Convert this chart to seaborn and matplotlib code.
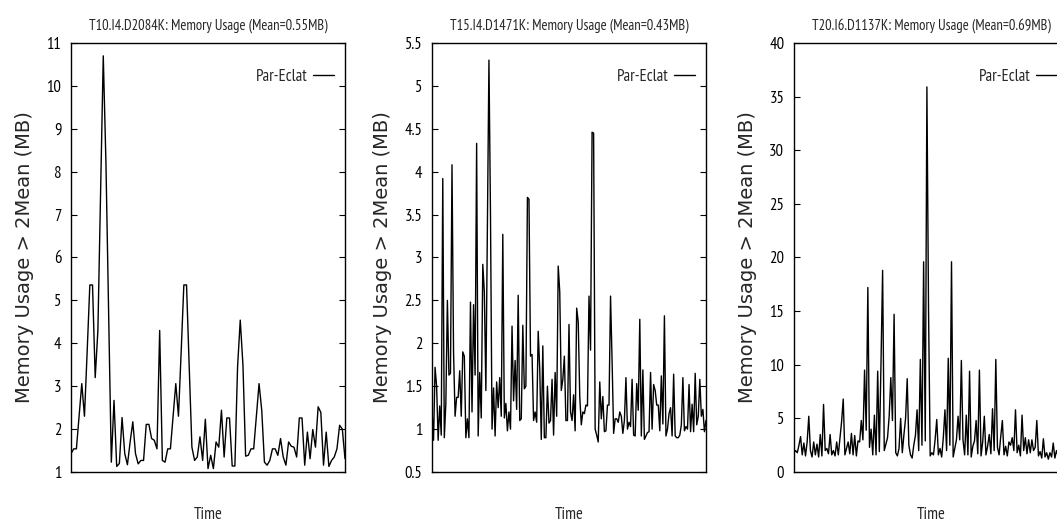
import pandas as pd
import matplotlib.pyplot as plt
import seaborn as sns
import numpy as np
from matplotlib.ticker import FormatStrFormatter

# memory usage traces (MB)
t10_usage = [1.43, 1.54, 1.54, 2.3, 3.06, 2.3, 3.8, 5.36, 5.36, 3.2, 4.3, 7.5, 10.7, 8.2, 4.7,
             1.23, 2.67, 1.13, 1.2, 2.27, 1.43, 1.17, 1.7, 2.17, 1.43, 1.19, 1.27, 1.27, 2.11,
             2.11, 1.78, 1.74, 1.54, 4.3, 1.27, 1.23, 1.54, 1.54, 2.3, 3.06, 2.3, 3.8, 5.36,
             5.36, 3.45, 1.58, 1.27, 1.35, 1.82, 1.27, 2.23, 1.08, 1.39, 1.08, 1.7, 1.58, 2.44,
             1.35, 2.26, 2.26, 1.14, 1.14, 3.45, 4.54, 3.5, 1.37, 1.39, 1.54, 1.54, 2.3, 3.06,
             2.44, 1.23, 1.16, 1.27, 1.54, 1.54, 1.39, 1.78, 1.35, 1.16, 1.7, 1.6, 1.58, 1.35,
             2.26, 2.26, 1.16, 1.93, 1.31, 1.99, 1.58, 2.52, 2.39, 1.16, 1.93, 1.13, 1.27, 1.35,
             1.54, 2.09, 2.0, 1.31]

t15_usage = [1.22, 0.87, 1.72, 1.5, 0.87, 1.27, 0.93, 3.92, 0.9, 1.3, 2.5, 1.63, 1.65, 4.08,
             1.9, 1.15, 1.37, 1.37, 1.68, 1.15, 1.9, 1.85, 0.9, 1.12, 0.9, 2.48, 1.2, 2.45,
             1.63, 4.33, 0.92, 1.66, 1.13, 2.92, 2.6, 1.45, 3.4, 5.3, 3.5, 1.0, 1.48, 0.92,
             1.55, 1.25, 1.6, 1.15, 3.27, 1.13, 1.3, 0.98, 1.2, 1.0, 2.2, 1.33, 1.8, 1.23,
             2.56, 1.1, 1.12, 2.21, 1.47, 1.5, 3.7, 3.68, 1.85, 1.87, 1.1, 1.2, 1.08, 2.14,
             1.7, 0.88, 1.97, 0.9, 0.9, 1.5, 1.07, 1.1, 1.58, 0.93, 1.66, 1.15, 2.9, 2.6,
             1.45, 1.58, 1.85, 1.1, 1.1, 2.22, 1.2, 1.1, 1.4, 0.98, 2.41, 2.25, 1.38, 1.05,
             1.2, 1.18, 1.28, 1.27, 2.55, 1.92, 4.46, 4.45, 1.0, 0.93, 0.85, 1.55, 1.12,
             1.38, 0.97, 0.98, 1.28, 1.28, 2.55, 1.8, 0.95, 1.12, 1.12, 1.08, 1.2, 1.15,
             0.95, 1.1, 1.6, 1.0, 1.08, 1.03, 1.58, 0.93, 0.92, 1.53, 1.22, 2.28, 0.92,
             1.69, 0.88, 0.92, 0.96, 0.97, 1.66, 1.0, 1.52, 1.45, 1.28, 1.28, 0.98, 1.62,
             1.06, 2.32, 0.92, 1.0, 1.18, 1.25, 0.92, 1.64, 0.92, 0.9, 0.9, 0.93, 1.05, 1.6,
             0.98, 1.03, 1.0, 1.52, 0.97, 1.29, 0.97, 1.65, 1.05, 1.15, 1.58, 1.15, 1.23,
             0.97, 1.1]

t20_usage = [1.8, 2.0, 1.8, 2.5, 3.3, 1.6, 2.7, 1.5, 2.8, 5.2, 2.0, 1.4, 2.8, 1.6, 2.6, 1.4,
             3.5, 1.5, 6.3, 2.0, 2.2, 1.7, 3.5, 1.6, 2.0, 1.5, 2.8, 1.6, 3.2, 4.7, 6.8, 1.6,
             2.2, 2.8, 1.7, 3.6, 1.6, 3.4, 1.5, 2.9, 2.8, 4.8, 3.0, 9.5, 3.9, 17.2, 2.3, 4.0,
             1.6, 5.3, 1.6, 9.4, 1.9, 10.0, 18.8, 2.0, 2.6, 3.2, 5.2, 8.8, 4.8, 14.7, 1.8,
             1.5, 2.2, 5.0, 1.8, 3.5, 5.0, 8.7, 2.5, 1.6, 1.3, 2.5, 3.4, 5.8, 2.0, 10.5, 2.5,
             19.6, 2.9, 35.9, 15.0, 1.5, 1.8, 1.6, 3.0, 4.9, 1.6, 2.2, 1.4, 3.2, 5.8, 2.0,
             10.6, 2.5, 19.6, 1.4, 2.2, 3.0, 5.2, 3.0, 10.4, 3.0, 1.6, 5.3, 1.6, 9.4, 1.4,
             2.4, 2.9, 4.8, 1.7, 9.5, 1.5, 2.8, 5.2, 1.6, 2.4, 3.5, 1.7, 5.9, 2.0, 10.5, 2.3,
             1.6, 3.3, 4.8, 1.6, 2.4, 1.5, 2.8, 2.5, 3.2, 2.0, 5.8, 1.8, 2.5, 1.5, 5.3, 2.0,
             3.2, 1.7, 3.0, 1.8, 3.0, 2.0, 2.3, 4.8, 1.5, 1.9, 1.3, 3.1, 1.4, 1.8, 1.2, 1.8,
             1.4, 2.7, 1.3, 2.0, 1.5, 2.2, 1.6, 2.5, 1.4, 1.8, 1.6]

titles = ["T10.I4.D2084K: Memory Usage (Mean=0.55MB)",
          "T15.I4.D1471K: Memory Usage (Mean=0.43MB)",
          "T20.I6.D1137K: Memory Usage (Mean=0.69MB)"]
series = [t10_usage, t15_usage, t20_usage]
y_limits = [(1, 11), (0.5, 5.5), (0, 40)]
y_steps = [1, 0.5, 5]

sns.set_style("white")
plt.rcParams['font.family'] = ['PT Sans Narrow', 'Roboto Condensed', 'Liberation Sans', 'DejaVu Sans']

fig = plt.figure(figsize=(10.57, 5.24), dpi=100)
lefts = [0.0672, 0.4087, 0.7512]

for i in range(3):
    ax = fig.add_axes([lefts[i], 0.0992, 0.2592, 0.8188])
    df = pd.DataFrame({"step": np.arange(len(series[i])), "usage": series[i]})
    sns.lineplot(data=df, x="step", y="usage", ax=ax, color="black", linewidth=1.0,
                 label="Par-Eclat")
    ax.set_xlim(0, len(series[i]) - 1)
    lo, hi = y_limits[i]
    ax.set_ylim(lo, hi)
    ax.set_yticks(np.arange(lo, hi + y_steps[i] / 2, y_steps[i]))
    ax.yaxis.set_major_formatter(FormatStrFormatter('%g'))
    ax.set_xticks([])
    ax.tick_params(axis='y', direction='in', length=4, width=0.8, right=True, left=True,
                   labelsize=12, pad=7, colors='black')
    for s in ax.spines.values():
        s.set_color('black')
        s.set_linewidth(1.0)
    ax.set_title(titles[i], fontsize=10.5, pad=10)
    ax.set_xlabel("Time", fontsize=12, labelpad=25)
    ax.set_ylabel("Memory Usage > 2Mean (MB)", fontsize=14, family='DejaVu Sans',
                  labelpad=9)
    ax.legend(loc='upper right', bbox_to_anchor=(0.985, 0.955), borderaxespad=0,
              frameon=False, markerfirst=False, fontsize=12, handlelength=1.25,
              handletextpad=0.35)

fig.savefig("out.png", dpi=100)
